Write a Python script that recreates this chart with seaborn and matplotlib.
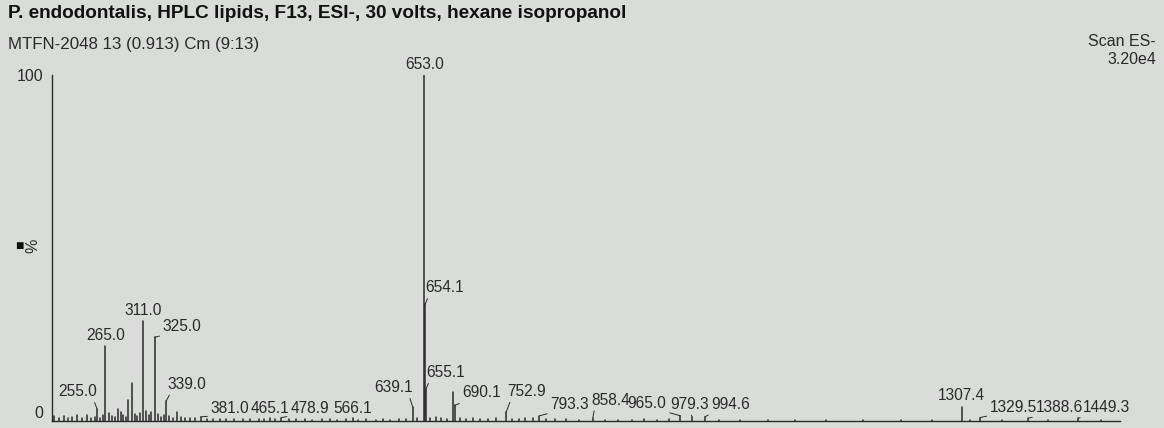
import seaborn as sns
import pandas as pd
import matplotlib.pyplot as plt

# labelled peaks (m/z, relative intensity %)
peak_mz = [255.0, 265.0, 311.0, 325.0, 339.0, 381.0, 465.1, 478.9, 566.1,
           639.1, 653.0, 654.1, 655.1, 690.1, 752.9, 793.3, 858.4,
           965.0, 979.3, 994.6, 1307.4, 1329.5, 1388.6, 1449.3]
peak_int = [3.4, 21.6, 28.8, 24.2, 5.8, 1.2, 1.0, 1.0, 0.8,
            4.0, 100.0, 33.7, 9.2, 4.5, 2.6, 1.5, 1.0,
            1.5, 1.2, 1.2, 4.0, 1.0, 0.8, 0.8]
peak_lbl = ["255.0", "265.0", "311.0", "325.0", "339.0", "381.0", "465.1", "478.9", "566.1",
            "639.1", "653.0", "654.1", "655.1", "690.1", "752.9", "793.3", "858.4",
            "965.0", "979.3", "994.6", "1307.4", "1329.5", "1388.6", "1449.3"]

# unlabelled minor peaks / baseline noise
minor_mz = [203, 208, 214, 219, 224, 230, 236, 243, 248, 252, 259, 262, 269, 273,
            277, 280, 284, 287, 290, 293, 297, 301, 304, 307, 314, 318, 321, 329,
            333, 336, 343, 347, 352, 357, 362, 368, 374, 389, 396, 404, 412, 421,
            433, 441, 452, 458, 471, 489, 497, 508, 517, 529, 538, 547, 558, 573,
            582, 594, 603, 611, 622, 631, 644, 660, 667, 674, 681, 688, 697, 704,
            712, 721, 731, 741, 760, 768, 776, 785, 801, 812, 826, 841, 873, 889,
            906, 921, 937, 951, 1012, 1038, 1071, 1105, 1142, 1187, 1233, 1271,
            1318, 1356, 1412, 1477]
minor_int = [1.5, 1.0, 1.4, 0.8, 1.2, 1.6, 0.9, 1.6, 0.8, 1.3, 1.0, 1.8, 2.2, 1.4,
             1.2, 3.4, 2.5, 1.6, 1.2, 6.0, 11.0, 2.0, 1.5, 2.2, 3.0, 1.6, 2.5, 2.0,
             1.2, 1.8, 1.4, 1.0, 2.5, 1.2, 0.9, 0.8, 1.0, 0.6, 0.7, 0.5, 0.6, 0.5,
             0.7, 0.5, 0.6, 0.5, 0.6, 0.5, 0.6, 0.5, 0.4, 0.6, 0.5, 0.4, 0.5, 0.4,
             0.5, 0.4, 0.5, 0.4, 0.5, 0.6, 0.8, 1.0, 1.2, 0.8, 0.6, 8.3, 1.0, 0.7,
             0.8, 0.6, 0.7, 0.8, 0.6, 0.7, 1.0, 0.8, 0.5, 0.6, 0.5, 0.4, 0.4, 0.4,
             0.4, 0.5, 0.4, 0.5, 0.4, 0.3, 0.4, 0.3, 0.3, 0.4, 0.3, 0.4,
             0.4, 0.3, 0.3, 0.3]

# label offsets in pixels (dx, dy), text alignment, leader line
label_style = {
    "255.0": (0, 10, "right", True), "265.0": (0, 3, "center", False),
    "311.0": (0, 3, "center", False), "325.0": (8, 3, "left", True),
    "339.0": (1, 9, "left", True), "381.0": (10, 1, "left", True),
    "465.1": (0, 2, "center", False), "478.9": (9, 2, "left", True),
    "566.1": (0, 2, "center", False), "639.1": (0, 12, "right", True),
    "653.0": (0, 3, "center", False), "654.1": (0, 9, "left", True),
    "655.1": (0, 9, "left", True), "690.1": (8, 5, "left", True),
    "752.9": (1, 13, "left", True), "793.3": (11, 4, "left", True),
    "858.4": (-2, 10, "left", True), "965.0": (-14, 5, "right", True),
    "979.3": (-3, 5, "center", True), "994.6": (6, 5, "left", True),
    "1307.4": (0, 4, "center", False), "1329.5": (10, 3, "left", True),
    "1388.6": (7, 3, "left", True), "1449.3": (5, 3, "left", True),
}

bg = "#dadcda"
ink = "#2a2a2a"
sns.set_style("white", {"axes.facecolor": bg, "figure.facecolor": bg})
plt.rcParams["font.family"] = ["Liberation Sans", "DejaVu Sans"]

rows = []
all_mz = peak_mz + minor_mz
all_int = peak_int + minor_int
for i, (m, v) in enumerate(zip(all_mz, all_int)):
    rows.append({"peak": i, "mz": m, "int": 0.0})
    rows.append({"peak": i, "mz": m, "int": v})
df = pd.DataFrame(rows)

fig = plt.figure(figsize=(11.64, 4.28), dpi=100)
ax = fig.add_axes([52 / 1164, 7 / 428, 1068 / 1164, 346 / 428])
sns.lineplot(data=df, x="mz", y="int", units="peak", estimator=None, sort=False,
             color=ink, lw=1.1, ax=ax, legend=False)

ax.set_xlim(200, 1500)
ax.set_ylim(0, 100)
ax.set_xlabel("")
ax.set_ylabel("")
for s in ["top", "right"]:
    ax.spines[s].set_visible(False)
for s in ["left", "bottom"]:
    ax.spines[s].set_color(ink)
    ax.spines[s].set_linewidth(1.0)

ax.set_xticks(range(200, 1501, 50))
ax.set_xticks(range(200, 1501, 10), minor=True)
ax.tick_params(axis="x", which="major", length=6, width=0.8, color=ink, labelbottom=False)
ax.tick_params(axis="x", which="minor", length=3, width=0.7, color=ink)
ax.set_yticks(range(0, 101, 10))
ax.set_yticklabels(["0"] + [""] * 9 + ["100"])
ax.tick_params(axis="y", which="major", length=5, width=0.8, color=ink,
               labelsize=11.5, labelcolor=ink, pad=1)
ax.get_yticklabels()[0].set_verticalalignment("bottom")

for m, v, t in zip(peak_mz, peak_int, peak_lbl):
    dx, dy, ha, lead = label_style[t]
    rel = {"left": (0.1, 0), "right": (0.9, 0), "center": (0.5, 0)}[ha]
    ap = dict(arrowstyle="-", color=ink, lw=0.7, relpos=rel, shrinkA=0, shrinkB=0) if lead else None
    ax.annotate(t, xy=(m, v), xytext=(dx, dy), textcoords="offset pixels",
                ha=ha, va="bottom", fontsize=11.2, color=ink, arrowprops=ap,
                annotation_clip=False)

fig.text(8 / 1164, 1 - 14 / 428, "P. endodontalis, HPLC lipids, F13, ESI-, 30 volts, hexane isopropanol",
         fontsize=13.7, fontweight="bold", color="#111111", va="center", ha="left")
fig.text(8 / 1164, 1 - 45 / 428, "MTFN-2048 13 (0.913) Cm (9:13)",
         fontsize=12.2, color=ink, va="center", ha="left")
fig.text(1156 / 1164, 1 - 42 / 428, "Scan ES-", fontsize=11.5, color=ink, va="center", ha="right")
fig.text(1156 / 1164, 1 - 60 / 428, "3.20e4", fontsize=11.5, color=ink, va="center", ha="right")
fig.text(19 / 1164, 1 - 246 / 428, "■", fontsize=10, color="#111111", va="center", ha="center")
fig.text(33 / 1164, 1 - 246 / 428, "%", fontsize=11.5, color=ink, va="center", ha="center", rotation=90)

fig.savefig("out.png", dpi=100, facecolor=bg)
